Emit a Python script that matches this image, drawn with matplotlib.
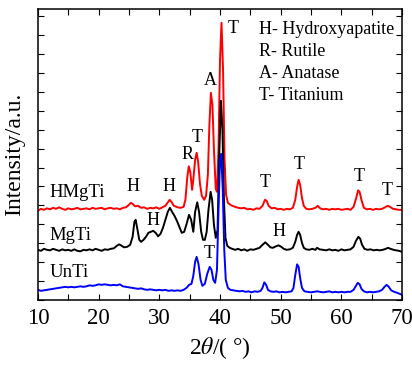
import matplotlib
matplotlib.use("Agg")
import matplotlib.pyplot as plt
from matplotlib.ticker import MultipleLocator, NullFormatter

plt.rcParams["font.family"] = ["Liberation Serif", "DejaVu Serif"]
plt.rcParams["mathtext.fontset"] = "stix"

# XRD patterns: (2theta, intensity in a.u., stacked)
red_x = [10, 10.5, 11, 11.5, 12, 12.5, 13, 13.5, 14, 14.5, 15, 15.5, 16, 16.5, 17, 17.5, 18, 18.5, 19, 19.5,
         20, 20.5, 21, 21.5, 22, 22.5, 23, 23.5, 24, 24.5, 25, 25.3, 25.6, 26, 26.5, 27, 27.5, 28, 28.5, 29,
         29.5, 30, 30.5, 31, 31.4, 31.7, 32, 32.4, 33, 33.5, 34, 34.3, 34.6, 34.85, 35.1, 35.4, 35.6, 35.9,
         36.15, 36.4, 36.7, 37.0, 37.4, 37.7, 38.0, 38.25, 38.5, 38.75, 39.0, 39.3, 39.5, 39.75, 40.0, 40.25,
         40.5, 40.75, 41.0, 41.3, 41.7, 42, 42.5, 43, 43.5, 44, 44.5, 45, 45.5, 46, 46.5, 47.0, 47.4, 47.7,
         48.0, 48.5, 49, 49.5, 50, 50.5, 51, 51.5, 52, 52.4, 52.7, 52.95, 53.2, 53.5, 53.8, 54.2, 54.7, 55.2,
         55.7, 56.1, 56.5, 57, 57.5, 58, 58.5, 59, 59.5, 60, 60.5, 61, 61.5, 62.0, 62.4, 62.75, 63.0, 63.3,
         63.7, 64.2, 64.7, 65.2, 65.7, 66.2, 66.7, 67.2, 67.6, 68.0, 68.5, 69, 69.5, 70]
red_y = [89, 91, 90, 91.5, 90.5, 92, 91, 92.5, 91, 90, 91.5, 90.5, 91, 92, 90.5, 91, 91.5, 90.5, 92, 91,
         91.5, 92, 90.5, 91.5, 92, 91, 91.5, 90.5, 92, 92.5, 95, 97, 96, 93.5, 94, 92, 92.5, 91, 92, 91.5,
         92.5, 91, 92.5, 94, 97.5, 100, 98, 94, 92.5, 92, 93, 100, 122, 133.5, 128, 110, 120, 140,
         147, 138, 116, 104, 100, 104, 125, 175, 207, 195, 150, 111, 108, 150, 240, 277,
         230, 140, 105, 97, 95, 94, 93, 92, 91.5, 92, 90.5, 91, 90, 91.5, 91, 94, 100, 99,
         94, 91.5, 92, 90.5, 91, 90, 91, 90.5, 92, 100, 113, 120, 115, 102, 94, 91, 90.5, 91,
         92, 94, 91.5, 90.5, 91, 90, 91, 90.5, 91, 90, 90.5, 91, 90, 93, 101, 109.5, 108, 100,
         92, 90.5, 91, 90, 91, 90.5, 91, 92.5, 94, 93, 91, 90.5, 90, 90]

black_x = [10, 10.5, 11, 11.5, 12, 12.5, 13, 13.5, 14, 14.5, 15, 15.5, 16, 16.5, 17, 17.5, 18, 18.5, 19,
           19.5, 20, 20.5, 21, 21.5, 22, 22.5, 23, 23.4, 23.8, 24.2, 24.7, 25.2, 25.6, 25.9, 26.1, 26.35,
           26.7, 27.0, 27.4, 27.8, 28.2, 28.6, 29.0, 29.4, 29.8, 30.2, 30.6, 31.0, 31.4, 31.75, 32.1, 32.5,
           32.9, 33.3, 33.7, 34.1, 34.5, 34.9, 35.25, 35.6, 35.9, 36.25, 36.55, 36.9, 37.2, 37.5, 37.8,
           38.1, 38.45, 38.7, 39.0, 39.3, 39.6, 39.85, 40.15, 40.4, 40.65, 40.9, 41.2, 41.6, 42, 42.5, 43,
           43.5, 44, 44.5, 45, 45.5, 46, 46.5, 47.0, 47.45, 47.9, 48.3, 48.7, 49.2, 49.65, 50.1, 50.5, 51,
           51.5, 52, 52.4, 52.7, 52.95, 53.2, 53.5, 53.8, 54.2, 54.7, 55.2, 55.7, 56.0, 56.4, 57, 57.5, 58,
           58.5, 59, 59.5, 60, 60.5, 61, 61.5, 62.0, 62.4, 62.8, 63.1, 63.4, 63.8, 64.3, 64.8, 65.3, 65.8,
           66.3, 66.8, 67.3, 67.7, 68.1, 68.6, 69, 69.5, 70]
black_y = [50, 49, 51, 50, 49.5, 51, 50, 49, 50.5, 49.5, 50, 49, 50.5, 49, 48.5, 50, 49.5, 50.5, 49.5,
           51, 50, 49, 50.5, 50, 51, 51.5, 54, 55.5, 54, 52.5, 53, 55, 63, 78, 80, 72,
           60, 58, 60, 63, 67, 68, 69, 67, 63.5, 66, 72, 80, 88, 92, 88, 84,
           79, 73, 67, 68, 76, 85, 80, 68, 88, 97.5, 88, 68, 60, 60, 68,
           90, 108, 100, 75, 62, 70, 140, 199, 170, 100, 62, 54, 52, 51, 50, 51,
           49.5, 50.5, 49, 50.5, 50, 51, 52, 55, 57.5, 55, 52.5, 52, 53.5, 54.5, 53, 51, 50,
           50.5, 52, 58, 65, 68, 65, 57, 52, 50.5, 50, 51, 50, 52, 50.5, 50, 49.5, 50.5,
           49.5, 50, 49, 50.5, 49.5, 50, 50.5, 53, 59, 63, 61, 55, 51, 50, 50.5, 49.5, 50,
           49.5, 50, 51, 52, 51, 50, 49.5, 49, 48]

blue_x = [10, 10.5, 11, 11.5, 12, 12.5, 13, 13.5, 14, 14.5, 15, 15.5, 16, 16.5, 17, 17.5, 18, 18.5, 19,
          19.5, 20, 20.5, 21, 21.5, 22, 22.5, 23, 23.5, 24, 24.5, 25, 25.5, 26, 26.5, 27, 27.5, 28, 28.5,
          29, 29.5, 30, 30.5, 31, 31.5, 32, 32.5, 33, 33.5, 34, 34.5, 34.9, 35.3, 35.6, 35.9, 36.15, 36.45,
          36.8, 37.1, 37.5, 37.9, 38.3, 38.6, 38.9, 39.2, 39.5, 39.75, 40.0, 40.2, 40.45, 40.7, 40.95,
          41.3, 41.7, 42.2, 42.7, 43.2, 43.7, 44.2, 44.7, 45.2, 45.7, 46.2, 46.7, 47.0, 47.3, 47.6, 47.9,
          48.3, 48.8, 49.3, 49.8, 50.3, 50.8, 51.3, 51.8, 52.1, 52.4, 52.7, 52.95, 53.2, 53.5, 53.9, 54.4,
          55, 55.5, 56, 56.5, 57, 57.5, 58, 58.5, 59, 59.5, 60, 60.5, 61, 61.5, 62.0, 62.4, 62.7, 63.0,
          63.3, 63.7, 64.2, 64.7, 65.2, 65.7, 66.2, 66.7, 67.1, 67.45, 67.8, 68.2, 68.7, 69.2, 69.6, 70]
blue_y = [10, 9, 9.5, 10, 10.5, 11, 11.5, 12, 12.5, 13, 12.5, 13, 12.5, 13, 13.5, 13, 13.5, 14.5, 14,
          14.5, 15.5, 15, 15.5, 15, 14.5, 15, 14.5, 15.5, 13.5, 13, 12.5, 12, 11.5, 11, 11.5, 10.5, 10, 10.5,
          10, 9.5, 10, 9.5, 10, 9, 9.5, 9, 9.5, 9, 10, 12, 15, 16, 24, 38, 43, 36,
          20, 14, 16, 26, 33, 30, 20, 17, 30, 90, 140, 146, 110, 50, 20,
          12, 10, 9.5, 9, 8.5, 9, 8, 8.5, 7.5, 8.5, 8, 9, 12, 17.5, 15, 10,
          8.5, 8, 8.5, 7.5, 8, 7.5, 8, 8.5, 12, 25, 35.5, 33, 22, 12, 8.5, 8,
          7.5, 8, 8.5, 8, 7.5, 8, 8.5, 7.5, 8, 7.5, 8, 7.5, 8, 8, 10, 14, 17, 15.5,
          11, 8.5, 7.5, 8, 7.5, 8, 8.5, 10, 13, 15, 13, 9.5, 8, 7, 6, 5]

sample_names = ["HMgTi", "MgTi", "UnTi"]
sample_label_y = [107, 64, 27]

# phase marks above peaks: (letter, 2theta, height)
mark_letters = ["H", "H", "H", "R", "T", "A", "T", "T", "T", "T", "H", "T", "T"]
mark_x = [25.7, 31.6, 28.9, 34.7, 36.25, 38.45, 42.1, 38.25, 47.5, 53.0, 49.8, 63.0, 67.6]
mark_y = [113, 113, 79, 145, 162, 219, 271, 46, 117, 135, 68, 123, 109]

key_lines = ["H- Hydroxyapatite", "R- Rutile", "A- Anatase", "T- Titanium"]
key_y = [270, 248, 226.5, 204.5]

fig = plt.figure(figsize=(4.12, 3.67), dpi=100)
ax = fig.add_axes([0.092, 0.183, 0.884, 0.793])

ax.plot(red_x, red_y, color="#ff0000", lw=1.4)
ax.plot(black_x, black_y, color="black", lw=1.4)
ax.plot(blue_x, blue_y, color="#0000ff", lw=1.4)

for name, y in zip(sample_names, sample_label_y):
    ax.text(11.85, y, name, fontsize=13.5, va="center", ha="left")

for s, x, y in zip(mark_letters, mark_x, mark_y):
    ax.text(x, y, s, fontsize=13, ha="center", va="center")

for s, y in zip(key_lines, key_y):
    ax.text(46.45, y, s, fontsize=13, ha="left", va="center")

ax.set_xlim(10, 70)
ax.set_ylim(0, 291)
ax.xaxis.set_major_locator(MultipleLocator(10))
ax.xaxis.set_minor_locator(MultipleLocator(5))
ax.yaxis.set_major_locator(MultipleLocator(18.9))
ax.yaxis.set_major_formatter(NullFormatter())
ax.tick_params(which="both", direction="in", top=True, right=True, length=4, width=0.8)
ax.tick_params(axis="x", labelsize=16.5, pad=6)
for sp in ax.spines.values():
    sp.set_linewidth(1.1)

ax.set_xlabel("2$\\theta$/( °)", fontsize=17, labelpad=4)
ax.set_ylabel("Intensity/a.u.", fontsize=17, labelpad=6)

fig.savefig("out.png", dpi=100)
